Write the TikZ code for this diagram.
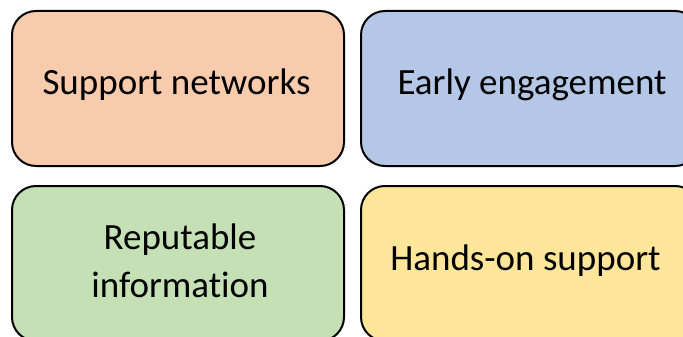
\documentclass[tikz,border=0pt]{standalone}
\usepackage{fontspec}
\setmainfont[RawFeature=-liga]{Carlito}
\definecolor{corange}{HTML}{F8CBAD}
\definecolor{cblue}{HTML}{B4C7E7}
\definecolor{cgreen}{HTML}{C5E0B4}
\definecolor{cyellow}{HTML}{FFE699}
\begin{document}
\begin{tikzpicture}[x=1pt,y=-1pt,
  card/.style={draw=black,line width=2pt,rounded corners=24pt,minimum width=332pt,minimum height=155pt,inner sep=0pt},
  cardtext/.style={anchor=base,inner sep=0pt,font=\fontsize{37}{45}\selectfont},
]
\useasboundingbox (0,0) rectangle (683,337);
\clip (0,0) rectangle (683,337);
\node[card,fill=corange] (a) at (178,88.5) {};
\node[card,fill=cblue,minimum width=338pt] (b) at (530,88.5) {};
\node[card,fill=cgreen] (c) at (178,263.5) {};
\node[card,fill=cyellow,minimum width=338pt] (d) at (530,263.5) {};
\node[cardtext] (ta) at (176.5,94.5) {Support networks};
\node[cardtext] (tb) at (532,94.5) {Early engagement};
\node[cardtext] (tc1) at (180,249.5) {Reputable};
\node[cardtext] (tc2) at (180,297.5) {information};
\node[cardtext] (td) at (525.5,270.5) {Hands-on support};
\end{tikzpicture}
\end{document}
